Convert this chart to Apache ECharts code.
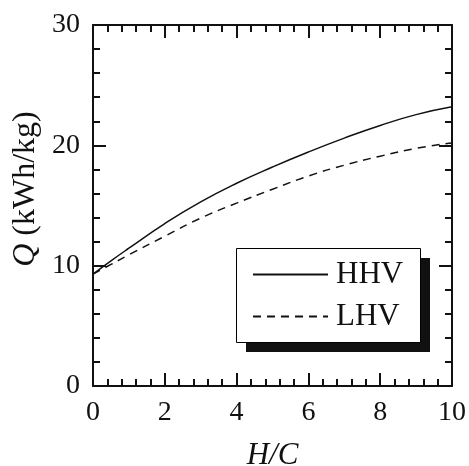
<!DOCTYPE html>
<html>
<head>
<meta charset="utf-8">
<script src="https://cdn.jsdelivr.net/npm/echarts@6/dist/echarts.min.js"></script>
<style>
    html, body { margin: 0; padding: 0; background: #fff; }
    #chart { width: 469px; height: 466px; }
</style>
</head>
<body>
<div id="chart"></div>
<script>
    // H/C ratio and heating values
    const hc = [0, 0.5, 1, 2, 3, 4, 5, 6, 7, 8, 9, 10];
    const hhv = [9.3, 10.4, 11.45, 13.5, 15.3, 16.85, 18.2, 19.45, 20.6, 21.65, 22.55, 23.2];
    const lhv = [9.3, 10.1, 10.9, 12.45, 13.95, 15.2, 16.35, 17.45, 18.35, 19.1, 19.75, 20.2];

    const font = '"Liberation Serif", "Times New Roman", Times, serif';
    const chart = echarts.init(document.getElementById('chart'));

    const axisLine = { onZero: false, lineStyle: { color: '#111', width: 2 } };
    const axisTick = { show: true, inside: true, length: 13, lineStyle: { color: '#111', width: 2 } };
    const minorTick = { show: true, splitNumber: 5, length: 7, lineStyle: { color: '#111', width: 2 } };

    let option = {
        animation: false,
        grid: { left: 93, right: 17, top: 25, bottom: 80, outerBoundsMode: 'none', containLabel: false },
        // legend frame with its drop shadow
        graphic: [
            { type: 'rect', left: 246, top: 258, z: 0, shape: { width: 184, height: 94 }, style: { fill: '#111' } },
            { type: 'rect', left: 236, top: 248, z: 1, shape: { width: 184, height: 94 }, style: { fill: '#fff', stroke: '#000', lineWidth: 1 } }
        ],
        legend: {
            orient: 'vertical',
            left: 252, top: 259,
            padding: 0, z: 10,
            icon: 'inherit',
            itemWidth: 75, itemHeight: 14, itemGap: 11,
            itemStyle: { opacity: 0 },
            textStyle: { fontFamily: font, fontSize: 31, color: '#111', padding: [0, 0, 0, 3] },
            data: ['HHV', 'LHV']
        },
        xAxis: [
            {
                type: 'value', min: 0, max: 10, interval: 2,
                name: 'H/C', nameLocation: 'middle', nameGap: 54,
                nameTextStyle: { fontFamily: font, fontSize: 31, fontStyle: 'italic', color: '#111' },
                axisLine: axisLine, axisTick: axisTick, minorTick: minorTick,
                axisLabel: { fontFamily: font, fontSize: 28, color: '#111', margin: 13 },
                splitLine: { show: false }
            },
            {
                type: 'value', min: 0, max: 10, interval: 2, position: 'top',
                axisLine: axisLine, axisTick: axisTick, minorTick: minorTick,
                axisLabel: { show: false },
                splitLine: { show: false }
            }
        ],
        yAxis: [
            {
                type: 'value', min: 0, max: 30, interval: 10,
                name: '{i|Q} (kWh/kg)', nameLocation: 'middle', nameGap: 50,
                nameTextStyle: {
                    fontFamily: font, fontSize: 32, color: '#111',
                    padding: [0, 0, 0, 33],
                    rich: { i: { fontFamily: font, fontSize: 32, fontStyle: 'italic', color: '#111' } }
                },
                axisLine: axisLine, axisTick: axisTick, minorTick: minorTick,
                axisLabel: { fontFamily: font, fontSize: 28, color: '#111', margin: 13 },
                splitLine: { show: false }
            },
            {
                type: 'value', min: 0, max: 30, interval: 10, position: 'right',
                axisLine: axisLine, axisTick: axisTick, minorTick: minorTick,
                axisLabel: { show: false },
                splitLine: { show: false }
            }
        ],
        series: [
            {
                name: 'HHV', type: 'line', smooth: true, symbol: 'none',
                lineStyle: { color: '#111', width: 1.5 },
                itemStyle: { color: '#111' },
                data: hc.map((x, i) => [x, hhv[i]])
            },
            {
                name: 'LHV', type: 'line', smooth: true, symbol: 'none',
                lineStyle: { color: '#111', width: 1.5, type: [8, 6] },
                itemStyle: { color: '#111' },
                data: hc.map((x, i) => [x, lhv[i]])
            }
        ]
    };
    chart.setOption(option);
</script>
</body>
</html>
